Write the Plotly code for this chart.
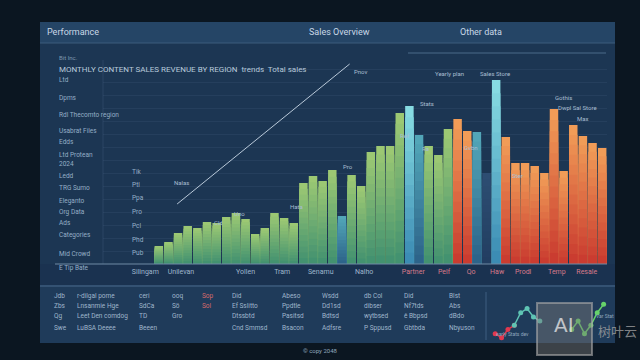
import plotly.graph_objects as go

W, H = 640, 360

# ---------------- data ----------------
bar_values = [18, 22, 31, 38, 36, 42, 41, 47, 51, 45, 30, 36, 51, 46, 41,
              81, 88, 83, 94, 48, 89, 78, 112, 118, 118, 151, 158, 129,
              118, 109, 135, 145, 133, 132, 91, 184, 127, 101, 101, 98,
              91, 155, 93, 139, 128, 121, 116]
bar_groups = (["g"] * 19 + ["t"] + ["g"] * 6 + ["c", "t", "g", "g", "g", "o", "o", "t", "b", "c"]
              + ["o"] * 11)

x_tick_pos = [-1.4, 2.3, 9.0, 12.8, 16.8, 21.3, 26.4, 29.6, 32.4, 35.1, 37.8, 41.3, 44.4]
x_tick_text = ["Silingam", "Unilevan", "Yollen", "Tram", "Senamu", "Nalho",
               "Partner", "Pelf", "Qo", "Haw", "Prodl", "Temp", "Resale"]
x_tick_warm = [False] * 6 + [True] * 7

trend_x = [1.9, 19.8]
trend_y = [60, 200]

mini_red_x = [0, 1, 2, 3]
mini_red_y = [2, 1, 3, 4]
mini_teal_x = [3, 4, 5, 6, 7]
mini_teal_y = [4, 7, 8, 6, 5]
mini_green_x = [12, 13, 14, 15, 16, 17]
mini_green_y = [3, 5, 2, 4, 7, 9]

titles = ["Performance", "Sales Overview", "Other data"]
left_labels = ["Ltd", "Dpms", "Rdl Thecomto region", "Usabrat Files", "Edds", "Ltd Protean",
               "2024", "Ledd", "TRG Sumo", "Eleganto", "Org Data", "Ads", "Categories",
               "Mid Crowd", "E Tip Bate"]
mid_labels = ["Tik", "Ptl", "Ppa", "Pro", "Pcl", "Phd", "Pub"]
bottom_cols = [
    ["Jdb", "Zbs", "Qg", "Swe"],
    ["r-dilgal pome", "Lnsanmie Hge", "Leet Den comdog", "LuBSA Deeee"],
    ["ceri", "SdCa", "TD", "Beeen"],
    ["ooq", "Sö", "Gro", ""],
    ["Sop", "Sol", "", ""],
    ["Did", "Ef Sslitto", "Dtssbtd", "Cnd Smmsd"],
    ["Abeso", "Ppdtle", "Pasitsd", "Bsacon"],
    ["Wsdd", "Dd1sd", "Bdtsd", "Adfsre"],
    ["db Col", "dibser", "wytbsed", "P Sppusd"],
    ["Did", "Nf7tds", "ê Bbpsd", "Gbtbda"],
    ["Blst", "Abs", "dBdo", "Nbyuson"],
]

# ---------------- styling helpers ----------------
PAL = {
    "g": ("#9cc873", "#3c8e70"),
    "t": ("#52a6b8", "#2a5f86"),
    "c": ("#86dbe2", "#3686b0"),
    "o": ("#f19c57", "#c7352d"),
    "b": ("#2d4d72", "#213d60"),
}


def hex2rgb(h):
    h = h.lstrip("#")
    return [int(h[i:i + 2], 16) for i in (0, 2, 4)]


def mix(c_top, c_bot, t):
    a, b = hex2rgb(c_top), hex2rgb(c_bot)
    return "rgb(%d,%d,%d)" % tuple(round(b[i] + (a[i] - b[i]) * t) for i in range(3))


def px(x):
    return x / W


def py(y):
    return 1 - y / H


fig = go.Figure()

# gradient bars: overlaid bars of decreasing height, each covering the lower part
N = 14
idx = list(range(len(bar_values)))
for k in range(N):
    frac = 1 - k / N
    fig.add_trace(go.Bar(
        x=idx,
        y=[v * frac for v in bar_values],
        marker=dict(color=[mix(PAL[g][0], PAL[g][1], frac) for g in bar_groups],
                    line=dict(width=0)),
        hoverinfo="skip", showlegend=False,
    ))

fig.add_trace(go.Scatter(x=trend_x, y=trend_y, mode="lines",
                         line=dict(color="#b9c9d9", width=1), showlegend=False,
                         hoverinfo="skip"))

for xs, ys, col in [(mini_red_x, mini_red_y, "#e2394f"), (mini_teal_x, mini_teal_y, "#5fc4b4"),
                    (mini_green_x, mini_green_y, "#67d36a")]:
    fig.add_trace(go.Scatter(x=xs, y=ys, xaxis="x2", yaxis="y2", mode="lines+markers",
                             line=dict(color=col, width=1.5), marker=dict(size=5, color=col),
                             showlegend=False, hoverinfo="skip"))

tick_text = [("<span style='color:#d77a8a'>%s</span>" % t) if w else t
             for t, w in zip(x_tick_text, x_tick_warm)]

fig.update_layout(
    width=W, height=H,
    margin=dict(l=0, r=0, t=0, b=0),
    paper_bgcolor="#0b1621",
    plot_bgcolor="rgba(0,0,0,0)",
    barmode="overlay", bargap=0.12,
    font=dict(family="Roboto, Open Sans, sans-serif", color="#9fb6cc", size=7),
    xaxis=dict(domain=[px(103), px(607)], range=[-5.79, 46.5], showgrid=False,
               zeroline=False, showline=False, tickmode="array", tickvals=x_tick_pos,
               ticktext=tick_text, tickfont=dict(size=7, color="#9fb6cc"), ticks="",
               ticklabelstandoff=2),
    yaxis=dict(domain=[py(264), py(59)], range=[0, 205], showgrid=True,
               gridcolor="rgba(160,190,220,0.07)", dtick=13, zeroline=False,
               showticklabels=False),
    xaxis2=dict(domain=[px(492), px(610)], range=[-0.5, 18], visible=False, anchor="y2"),
    yaxis2=dict(domain=[py(342), py(296)], range=[0, 11], visible=False, anchor="x2"),
)

shapes = [
    dict(type="rect", xref="paper", yref="paper", x0=px(40), x1=px(615), y0=py(343), y1=py(22),
         fillcolor="#1c3653", line=dict(width=0), layer="below"),
    dict(type="rect", xref="paper", yref="paper", x0=px(40), x1=px(615), y0=py(43), y1=py(22),
         fillcolor="#254566", line=dict(width=0), layer="below"),
    dict(type="line", xref="paper", yref="paper", x0=px(40), x1=px(615), y0=py(43), y1=py(43),
         line=dict(color="#3c5c7c", width=1), layer="below"),
    dict(type="line", xref="paper", yref="paper", x0=px(408), x1=px(606), y0=py(53), y1=py(53),
         line=dict(color="#4a6a8a", width=1), layer="below"),
    dict(type="rect", xref="paper", yref="paper", x0=px(40), x1=px(615), y0=py(285), y1=py(264),
         fillcolor="#1a3250", line=dict(width=0), layer="below"),
    dict(type="line", xref="paper", yref="paper", x0=px(55), x1=px(607), y0=py(264), y1=py(264),
         line=dict(color="#6f8aa5", width=1)),
    dict(type="line", xref="paper", yref="paper", x0=px(103), x1=px(103), y0=py(264), y1=py(60),
         line=dict(color="rgba(160,190,220,0.12)", width=1), layer="below"),
    dict(type="rect", xref="paper", yref="paper", x0=px(40), x1=px(615), y0=py(343), y1=py(285),
         fillcolor="#1f3b5a", line=dict(width=0), layer="below"),
    dict(type="line", xref="paper", yref="paper", x0=px(40), x1=px(615), y0=py(286), y1=py(286),
         line=dict(color="#4b6b8c", width=1.2)),
    dict(type="line", xref="paper", yref="paper", x0=px(486), x1=px(486), y0=py(340), y1=py(292),
         line=dict(color="#3f5f80", width=1)),
    dict(type="rect", xref="paper", yref="paper", x0=px(537), x1=px(592), y0=py(355), y1=py(303),
         fillcolor="rgba(120,120,120,0.45)", line=dict(color="rgba(170,170,170,0.6)", width=2)),
]
fig.update_layout(shapes=shapes)

ann = []


def T(x, y, text, size=7, color="#9fb6cc", anchor="left", family=None):
    d = dict(x=px(x), y=py(y), xref="paper", yref="paper", text=text, showarrow=False,
             xanchor=anchor, yanchor="middle", font=dict(size=size, color=color))
    if family:
        d["font"]["family"] = family
    ann.append(d)


T(45, 32, titles[0], 9, "#c9d8e6")
T(307, 32, titles[1], 9, "#c9d8e6")
T(458, 32, titles[2], 9, "#c9d8e6")
T(57, 58, "Bit Inc.", 6, "#7f98b0")
T(57, 70, "MONTHLY CONTENT SALES REVENUE BY REGION  trends  Total sales", 8, "#b8cadb")

left_y = [80, 98, 115, 131, 142, 155, 164, 176, 188, 201, 212, 223, 235, 254, 268]
for lab, yy in zip(left_labels, left_y):
    T(57, yy, lab, 6.5, "#95aec6")

mid_y = [172, 185, 198, 212, 226, 240, 253]
for lab, yy in zip(mid_labels, mid_y):
    T(130, yy, lab, 6.5, "#95aec6")

for x, y, t in [(172, 182, "Nalas"), (232, 213, "Uno"), (212, 222, "Cld"), (288, 207, "Hata"),
                (341, 166, "Pro"), (352, 72, "Pnov"), (418, 104, "Stats"), (398, 135, "Ref"),
                (420, 148, "Ra"), (433, 74, "Yearly plan"), (478, 74, "Sales Store"),
                (462, 147, "Gvbn"), (510, 175, "Ster"), (553, 98, "Gothis"),
                (556, 107, "Dwpl Sal Store"), (575, 119, "Max")]:
    T(x, y, t, 6, "#a9bed2")

bottom_x = [52, 75, 137, 170, 200, 230, 280, 320, 362, 402, 447]
rows_y = [296, 306, 316, 328]
for cx, col in zip(bottom_x, bottom_cols):
    for txt, ry in zip(col, rows_y):
        if txt:
            c = "#d66a6a" if cx == 200 else "#9fb6cc"
            T(cx, ry, txt, 6.5, c)

T(494, 334, "early Stats dev", 5, "#8fa6bd")
T(594, 316, "Var Stat", 5, "#8fa6bd")
T(320, 350, "© copy 2048", 6, "#8fa6bd", anchor="center")
T(564, 325, "AI", 20, "rgba(235,235,235,0.75)", anchor="center", family="DejaVu Sans")
T(596, 330, "树叶云", 13, "rgba(160,160,160,0.8)", family="Noto Sans CJK SC")

fig.update_layout(annotations=ann)
fig.write_html("out.html", config={"displayModeBar": False},
               post_script="document.body.style.margin='0';document.body.style.overflow='hidden';")
